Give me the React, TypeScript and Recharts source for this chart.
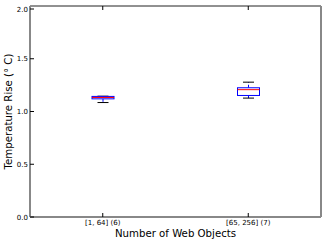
import React from 'react'
import { ComposedChart, Bar, XAxis, YAxis } from 'recharts'

const categories = ['[1, 64] (6)', '[65, 256] (7)']
const lowWhisker = [1.085, 1.127]
const q1 = [1.12, 1.152]
const median = [1.133, 1.207]
const q3 = [1.143, 1.225]
const highWhisker = [1.145, 1.278]
const yTicks = [0, 0.5, 1.0, 1.5, 2.0]

const data = categories.map((name, i) => ({
  name,
  range: [lowWhisker[i], highWhisker[i]],
  low: lowWhisker[i],
  q1: q1[i],
  median: median[i],
  q3: q3[i],
  high: highWhisker[i],
}))

const font = 'DejaVu Sans, sans-serif'

// draws whiskers, box and median from the bar's [low, high] pixel span
const BoxShape = (props: any) => {
  const { x, y, width, height, payload } = props
  const top = Math.min(y, y + height)
  const bottom = Math.max(y, y + height)
  const { low, high } = payload
  const span = high - low || 1
  const py = (v: number) => top + ((high - v) / span) * (bottom - top)
  const cx = x + width / 2
  const cap = width / 4
  return (
    <g>
      <line x1={cx} x2={cx} y1={py(payload.q3)} y2={py(high)} stroke="#0000ff" strokeDasharray="3 2" />
      <line x1={cx} x2={cx} y1={py(payload.q1)} y2={py(low)} stroke="#0000ff" strokeDasharray="3 2" />
      <line x1={cx - cap} x2={cx + cap} y1={py(high)} y2={py(high)} stroke="#000" />
      <line x1={cx - cap} x2={cx + cap} y1={py(low)} y2={py(low)} stroke="#000" />
      <rect x={x} y={py(payload.q3)} width={width} height={py(payload.q1) - py(payload.q3)} fill="#fff" stroke="#0000ff" />
      <line x1={x} x2={x + width} y1={py(payload.median)} y2={py(payload.median)} stroke="#ff0000" />
    </g>
  )
}

const LeftTick = (props: any) => {
  const { x, y, payload } = props
  return (
    <g>
      <line x1={x} x2={x + 4} y1={y} y2={y} stroke="#000" />
      <text x={x - 2} y={y + 2.5} textAnchor="end" fontSize={7} fontFamily={font} fill="#000">
        {Number(payload.value).toFixed(1)}
      </text>
    </g>
  )
}

const RightTick = (props: any) => {
  const { x, y } = props
  return <line x1={x - 4} x2={x} y1={y} y2={y} stroke="#000" />
}

const BottomTick = (props: any) => {
  const { x, y, payload } = props
  return (
    <g>
      <line x1={x} x2={x} y1={y - 4} y2={y} stroke="#000" />
      <text x={x} y={y + 8} textAnchor="middle" fontSize={7} fontFamily={font} fill="#000">
        {payload.value}
      </text>
    </g>
  )
}

const TopTick = (props: any) => {
  const { x, y } = props
  return <line x1={x} x2={x} y1={y} y2={y + 4} stroke="#000" />
}

const YLabel = (props: any) => {
  const { viewBox } = props
  const cx = 8
  const cy = viewBox.y + viewBox.height / 2
  return (
    <text
      x={cx}
      y={cy}
      transform={`rotate(-90 ${cx} ${cy})`}
      textAnchor="middle"
      dominantBaseline="central"
      fontSize={10.2}
      fontFamily={font}
      fill="#000"
    >
      Temperature Rise (° C)
    </text>
  )
}

export default function App() {
  return (
    <div style={{ position: 'absolute', left: 0, top: 0, background: '#fff' }}>
      <ComposedChart width={324} height={242} data={data} margin={{ top: 0, right: 0, bottom: 0, left: 0 }}>
        <XAxis
          dataKey="name"
          xAxisId="b"
          height={25}
          tickSize={0}
          tickMargin={0}
          tick={<BottomTick />}
          axisLine={{ stroke: '#888', strokeWidth: 2 }}
          label={{ value: 'Number of Web Objects', position: 'insideBottom', offset: 5, fontSize: 10.2, fontFamily: font, fill: '#000' }}
        />
        <XAxis
          dataKey="name"
          xAxisId="t"
          orientation="top"
          height={6}
          tickSize={0}
          tickMargin={0}
          tick={<TopTick />}
          axisLine={{ stroke: '#222', strokeWidth: 1 }}
        />
        <YAxis
          yAxisId="l"
          width={30}
          domain={[0, 2]}
          ticks={yTicks}
          tickSize={0}
          tickMargin={0}
          tick={<LeftTick />}
          axisLine={{ stroke: '#888', strokeWidth: 2 }}
          label={{ content: <YLabel /> }}
        />
        <YAxis
          yAxisId="r"
          orientation="right"
          width={3}
          domain={[0, 2]}
          ticks={yTicks}
          tickSize={0}
          tickMargin={0}
          tick={<RightTick />}
          axisLine={{ stroke: '#888', strokeWidth: 2 }}
        />
        <Bar dataKey="range" xAxisId="b" yAxisId="l" barSize={22} shape={<BoxShape />} isAnimationActive={false} />
      </ComposedChart>
    </div>
  )
}
